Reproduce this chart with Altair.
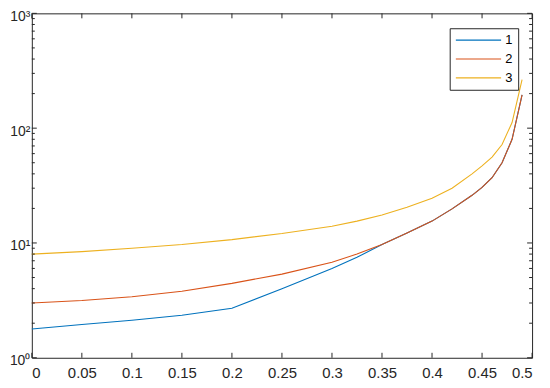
import altair as alt
import pandas as pd

# ---- data ----
x_vals = [0, 0.05, 0.1, 0.15, 0.2, 0.25, 0.3, 0.325, 0.35, 0.375, 0.4, 0.42, 0.44, 0.45, 0.46, 0.47, 0.48, 0.49]
series_1 = [1.78, 1.95, 2.12, 2.35, 2.7, 4.0, 6.0, 7.5, 9.7, 12.2, 15.5, 19.8, 26.0, 30.5, 37.0, 50.0, 80.0, 195.0]
series_2 = [3.0, 3.15, 3.4, 3.8, 4.45, 5.35, 6.8, 8.0, 9.7, 12.2, 15.5, 19.8, 26.0, 30.5, 37.0, 50.0, 80.0, 195.0]
series_3 = [8.0, 8.4, 9.0, 9.7, 10.7, 12.1, 14.0, 15.5, 17.5, 20.5, 24.5, 30.0, 40.0, 47.0, 56.0, 72.0, 112.0, 265.0]
series_names = ["1", "2", "3"]
colors = ["#0072BD", "#D95319", "#EDB120"]

x_ticks = [0, 0.05, 0.1, 0.15, 0.2, 0.25, 0.3, 0.35, 0.4, 0.45, 0.5]
y_major = [1, 10, 100, 1000]
y_minor = [2, 3, 4, 5, 6, 7, 8, 9, 20, 30, 40, 50, 60, 70, 80, 90, 200, 300, 400, 500, 600, 700, 800, 900]

rows = []
for name, vals in zip(series_names, [series_1, series_2, series_3]):
    for xv, yv in zip(x_vals, vals):
        rows.append({"x": xv, "y": yv, "series": name})
df = pd.DataFrame(rows)

FONT = "Liberation Sans"
INK = "#262626"
W, H = 504, 347
MAJ, MIN = 5, 3

xscale = alt.Scale(domain=[0, 0.5], nice=False, zero=False)
yscale = alt.Scale(type="log", domain=[1, 1000], nice=False)

common = dict(grid=False, domain=False, ticks=False, tickSize=0, labelColor=INK,
              labelFont=FONT, title=None)

y_label_expr = ("datum.value == 1 ? '10\u2070' : datum.value == 10 ? '10\u00b9' : "
                "datum.value == 100 ? '10\u00b2' : '10\u00b3'")

x_axis = alt.Axis(orient="bottom", values=x_ticks, format=".2~f", labelPadding=8,
                  labelFontSize=15, **common)
y_axis = alt.Axis(orient="left", values=y_major, labelExpr=y_label_expr,
                  labelPadding=2, labelOffset=3, labelFontSize=14, **common)

main = alt.Chart(df).mark_line(strokeWidth=1.1).encode(
    x=alt.X("x:Q", scale=xscale, axis=x_axis),
    y=alt.Y("y:Q", scale=yscale, axis=y_axis),
    color=alt.Color("series:N",
                    scale=alt.Scale(domain=series_names, range=colors),
                    legend=alt.Legend(title=None, orient="none", legendX=421, legendY=15,
                                      strokeColor=INK, fillColor="white", padding=5,
                                      symbolType="M-3.8,0H3.8", symbolSize=144,
                                      symbolOffset=17, symbolStrokeWidth=1.1,
                                      symbolFillColor="transparent",
                                      labelOffset=20, labelFontSize=13,
                                      labelFont=FONT, labelColor="black",
                                      rowPadding=5,
                                      labelExpr="datum.label + '\u00a0'")),
)

xt = alt.Chart(pd.DataFrame({"x": x_ticks}))
ymj = alt.Chart(pd.DataFrame({"y": y_major}))
ymn = alt.Chart(pd.DataFrame({"y": y_minor}))

tick_x = alt.X("x:Q", scale=xscale, axis=x_axis)
tick_y = alt.Y("y:Q", scale=yscale, axis=y_axis)

bottom_ticks = xt.mark_rule(color=INK, strokeWidth=1).encode(
    x=tick_x, y=alt.value(H), y2=alt.value(H - MAJ))
top_ticks = xt.mark_rule(color=INK, strokeWidth=1).encode(
    x=tick_x, y=alt.value(0), y2=alt.value(MAJ))
left_major = ymj.mark_rule(color=INK, strokeWidth=1).encode(
    y=tick_y, x=alt.value(0), x2=alt.value(MAJ))
right_major = ymj.mark_rule(color=INK, strokeWidth=1).encode(
    y=tick_y, x=alt.value(W), x2=alt.value(W - MAJ))
left_minor = ymn.mark_rule(color=INK, strokeWidth=1).encode(
    y=tick_y, x=alt.value(0), x2=alt.value(MIN))
right_minor = ymn.mark_rule(color=INK, strokeWidth=1).encode(
    y=tick_y, x=alt.value(W), x2=alt.value(W - MIN))

chart = alt.layer(
    main, bottom_ticks, top_ticks, left_major, right_major, left_minor, right_minor
).properties(
    width=W, height=H,
    autosize=alt.AutoSizeParams(type="none"),
    padding={"left": 24, "top": 4, "right": 10, "bottom": 21},
).configure_view(stroke=INK, strokeWidth=1)

chart.save("out.html", embed_options={"renderer": "svg", "actions": False})
